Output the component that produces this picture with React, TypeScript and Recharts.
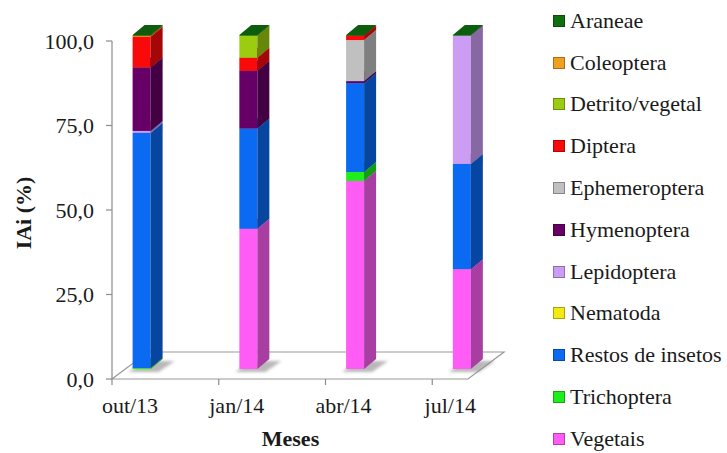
import { Bar, BarChart, Customized, XAxis, YAxis } from "recharts";

// IAi (%) per month, one array per food item
const MONTHS = ["out/13", "jan/14", "abr/14", "jul/14"];
const VEGETAIS = [0, 42.0, 56.3, 29.9];
const TRICHOPTERA = [0.3, 0, 2.7, 0];
const RESTOS_INSETOS = [70.4, 30.0, 26.6, 31.5];
const NEMATODA = [0, 0, 0, 0];
const LEPIDOPTERA = [0.6, 0, 0, 38.4];
const HYMENOPTERA = [19.0, 17.3, 0.6, 0];
const EPHEMEROPTERA = [0, 0, 12.3, 0];
const DIPTERA = [9.2, 3.9, 1.3, 0];
const DETRITO_VEGETAL = [0, 6.6, 0, 0];
const COLEOPTERA = [0.3, 0, 0, 0];
const ARANEAE = [0.2, 0.2, 0.2, 0.2];
const Y_TICKS = [0, 25, 50, 75, 100];

// stacking order, bottom to top
const SERIES = [
  { key: "Vegetais", values: VEGETAIS, color: "#ff5cf6" },
  { key: "Trichoptera", values: TRICHOPTERA, color: "#1eee1e" },
  { key: "Restos de insetos", values: RESTOS_INSETOS, color: "#0a6af2" },
  { key: "Nematoda", values: NEMATODA, color: "#f2ea10" },
  { key: "Lepidoptera", values: LEPIDOPTERA, color: "#cc9df5" },
  { key: "Hymenoptera", values: HYMENOPTERA, color: "#660066" },
  { key: "Ephemeroptera", values: EPHEMEROPTERA, color: "#c0c0c0" },
  { key: "Diptera", values: DIPTERA, color: "#f80a0a" },
  { key: "Detrito/vegetal", values: DETRITO_VEGETAL, color: "#9ccc10" },
  { key: "Coleoptera", values: COLEOPTERA, color: "#f0a020" },
  { key: "Araneae", values: ARANEAE, color: "#0e6e10" },
];

const data = MONTHS.map((m, i) => {
  const row: Record<string, number | string> = { month: m };
  SERIES.forEach((s) => (row[s.key] = s.values[i]));
  return row;
});

const W = 727;
const H = 453;
const MARGIN = { top: 41, right: 188, bottom: 0, left: 0 };
const Y_AXIS_W = 112;
const X_AXIS_H = 74;
const PLOT_LEFT = MARGIN.left + Y_AXIS_W;
const PLOT_BOTTOM = H - MARGIN.bottom - X_AXIS_H;
const PLOT_W = W - MARGIN.right - PLOT_LEFT;
const PLOT_MID_Y = MARGIN.top + (PLOT_BOTTOM - MARGIN.top) / 2;
const BAND = PLOT_W / MONTHS.length;
const BAR_W = 18;

// oblique projection used for the fake 3D
const DEPTH_X = 12;
const DEPTH_Y = -10;
const BAR_SHIFT_X = -23.4; // bars sit towards the left of each band
const BAR_LIFT = -10; // bars stand a bit behind the front edge of the floor
const PERSP = 0.988;
const FLOOR_LEN = 356;
const FLOOR_DX = 36;
const FLOOR_DY = -27;

const FONT = '"Liberation Serif", "Times New Roman", serif';
const TEXT = "#1a1a1a";
const AXIS = "#8c8c8c";

function shade(hex: string, f: number) {
  const n = parseInt(hex.slice(1), 16);
  const c = [(n >> 16) & 255, (n >> 8) & 255, n & 255].map((v) => Math.round(v * f));
  return `rgb(${c[0]},${c[1]},${c[2]})`;
}

const toBarPlane = (py: number) => PLOT_BOTTOM + BAR_LIFT - (PLOT_BOTTOM - py) * PERSP;

function Box3D(props: any) {
  const { x, y, width, height, color, seriesIndex, payload } = props;
  if (!height || height <= 0) return <g />;
  const top = toBarPlane(y);
  const bottom = toBarPlane(y + height);
  const x0 = x + BAR_SHIFT_X;
  const w = width;
  const row = payload || {};
  const below = SERIES.slice(0, seriesIndex).reduce((a, s) => a + (Number(row[s.key]) || 0), 0);
  return (
    <g>
      {below === 0 && (
        <polygon
          points={`${x0 - 4},${bottom + 3} ${x0 + w + 8},${bottom + 3} ${x0 + w + DEPTH_X + 12},${bottom + DEPTH_Y + 2} ${x0 + DEPTH_X},${bottom + DEPTH_Y + 2}`}
          fill="#8a8a8a"
          opacity={0.6}
          filter="url(#barShadow)"
        />
      )}
      <rect x={x0} y={top} width={w} height={bottom - top} fill={color} />
      <polygon
        points={`${x0 + w},${top} ${x0 + w + DEPTH_X},${top + DEPTH_Y} ${x0 + w + DEPTH_X},${bottom + DEPTH_Y} ${x0 + w},${bottom}`}
        fill={shade(color, 0.66)}
      />
      <polygon
        points={`${x0},${top} ${x0 + DEPTH_X},${top + DEPTH_Y} ${x0 + w + DEPTH_X},${top + DEPTH_Y} ${x0 + w},${top}`}
        fill={shade(color, 0.85)}
      />
    </g>
  );
}

function Floor() {
  const x1 = PLOT_LEFT;
  const x2 = PLOT_LEFT + FLOOR_LEN;
  const y = PLOT_BOTTOM;
  return (
    <g>
      <defs>
        <filter id="barShadow" x="-50%" y="-50%" width="200%" height="200%">
          <feGaussianBlur stdDeviation="1.8" />
        </filter>
      </defs>
      <polygon
        points={`${x1},${y} ${x2},${y} ${x2 + FLOOR_DX},${y + FLOOR_DY} ${x1 + FLOOR_DX},${y + FLOOR_DY}`}
        fill="#ffffff"
        stroke="#9a9a9a"
        strokeWidth={1.2}
      />
    </g>
  );
}

function MonthTick(props: any) {
  const { x, payload } = props;
  const start = x - BAND / 2;
  return (
    <g>
      <line x1={start} y1={PLOT_BOTTOM} x2={start} y2={PLOT_BOTTOM + 6} stroke={AXIS} strokeWidth={1.2} />
      <text x={start + 18} y={PLOT_BOTTOM + 34} textAnchor="middle" fontFamily={FONT} fontSize={22} fill={TEXT}>
        {payload.value}
      </text>
    </g>
  );
}

function LegendList() {
  return (
    <div style={{ position: "absolute", left: 553, top: 0, fontFamily: FONT, fontSize: 22, color: TEXT }}>
      {[...SERIES].reverse().map((s) => (
        <div key={s.key} style={{ height: 41.8, display: "flex", alignItems: "center" }}>
          <span
            style={{
              width: 10,
              height: 10,
              background: s.color,
              border: `1px solid ${shade(s.color, 0.7)}`,
              marginRight: 5,
              flex: "none",
            }}
          />
          <span style={{ whiteSpace: "nowrap", lineHeight: "24px" }}>{s.key}</span>
        </div>
      ))}
    </div>
  );
}

export default function App() {
  return (
    <div style={{ position: "relative", width: W, height: H, background: "#ffffff" }}>
      <style>{"body{margin:0}"}</style>
      <BarChart width={W} height={H} data={data} margin={MARGIN} barSize={BAR_W}>
        <Customized component={<Floor />} />
        <XAxis
          dataKey="month"
          height={X_AXIS_H}
          axisLine={false}
          tickLine={false}
          tick={<MonthTick />}
          interval={0}
          label={{
            content: () => (
              <text
                x={PLOT_LEFT + PLOT_W / 2 - 35}
                y={H - 7}
                textAnchor="middle"
                fontFamily={FONT}
                fontSize={22}
                fontWeight="bold"
                fill={TEXT}
              >
                Meses
              </text>
            ),
          }}
        />
        <YAxis
          width={Y_AXIS_W}
          domain={[0, 100]}
          ticks={Y_TICKS}
          interval={0}
          tickSize={6}
          tickMargin={12}
          tickFormatter={(v: number) => Number(v).toFixed(1).replace(".", ",")}
          tick={{ fontFamily: FONT, fontSize: 22, fill: TEXT }}
          axisLine={{ stroke: AXIS, strokeWidth: 1.2 }}
          tickLine={{ stroke: AXIS, strokeWidth: 1.2 }}
          label={{
            content: () => (
              <text
                x={23}
                y={PLOT_MID_Y + 3}
                transform={`rotate(-90 23 ${PLOT_MID_Y + 3})`}
                textAnchor="middle"
                dominantBaseline="central"
                fontFamily={FONT}
                fontSize={22}
                fontWeight="bold"
                fill={TEXT}
              >
                IAi (%)
              </text>
            ),
          }}
        />
        {SERIES.map((s, i) => (
          <Bar
            key={s.key}
            dataKey={s.key}
            stackId="iai"
            fill={s.color}
            isAnimationActive={false}
            shape={(p: any) => <Box3D {...p} color={s.color} seriesIndex={i} />}
          />
        ))}
      </BarChart>
      <LegendList />
    </div>
  );
}
